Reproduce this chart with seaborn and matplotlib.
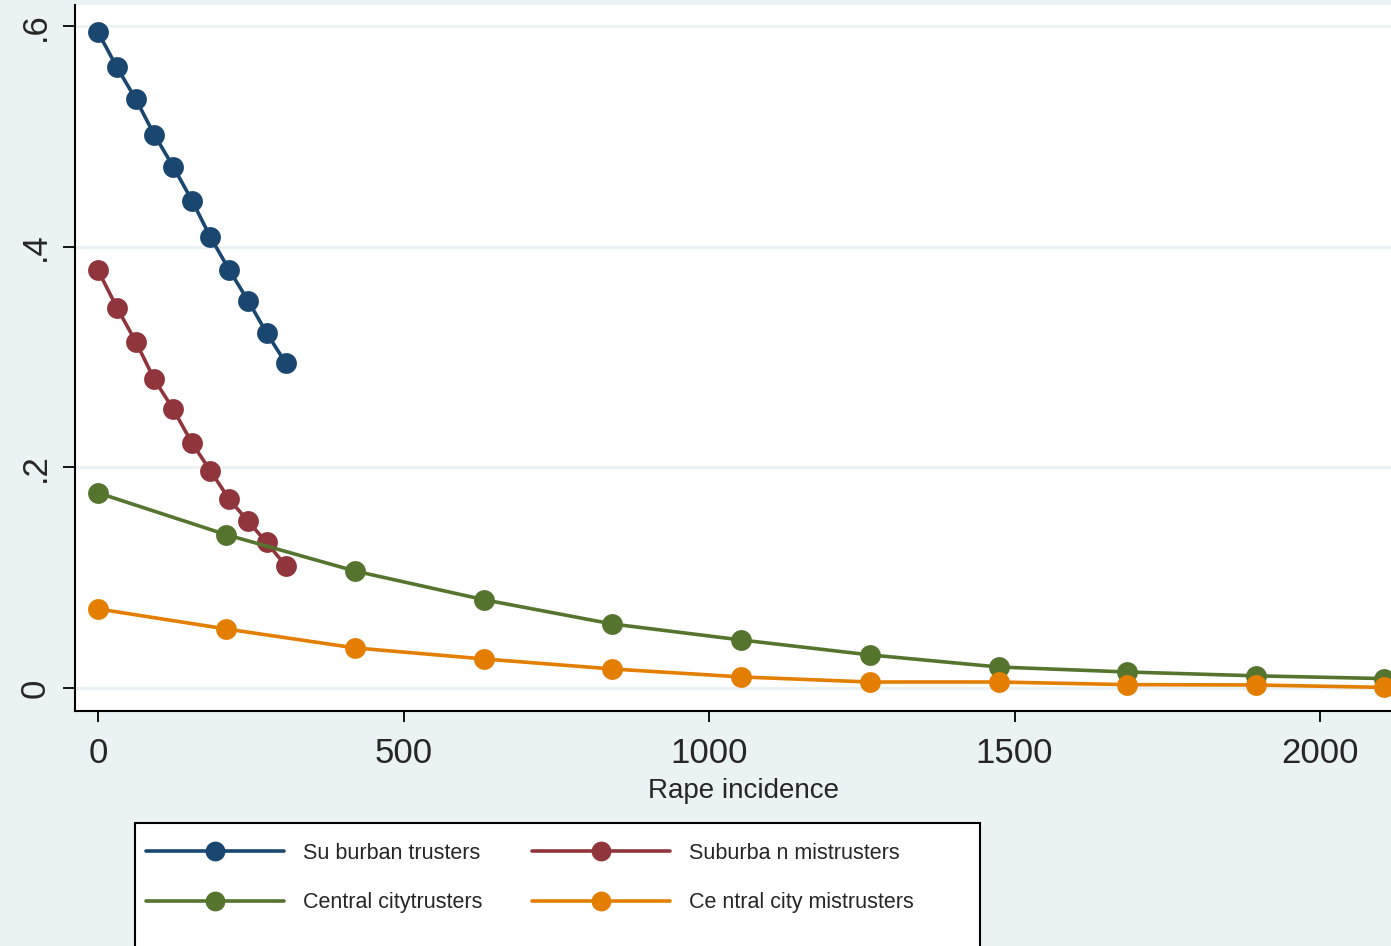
import matplotlib
matplotlib.use("Agg")
import matplotlib.pyplot as plt
from matplotlib import font_manager
from matplotlib.patches import Rectangle
import seaborn as sns
import pandas as pd

# Rape incidence values at which each group's probability is evaluated
suburban_x = [0, 31, 62, 92, 123, 154, 184, 215, 246, 276, 307]
central_x = [0, 210, 421, 632, 842, 1053, 1263, 1474, 1684, 1895, 2105]

# Predicted probabilities
suburban_trusters = [0.595, 0.563, 0.534, 0.502, 0.473, 0.442, 0.409, 0.379, 0.351, 0.322, 0.295]
suburban_mistrusters = [0.379, 0.345, 0.314, 0.280, 0.253, 0.222, 0.197, 0.171, 0.151, 0.132, 0.111]
central_trusters = [0.177, 0.139, 0.106, 0.080, 0.058, 0.0435, 0.030, 0.019, 0.0145, 0.011, 0.0085]
central_mistrusters = [0.0717, 0.0535, 0.0363, 0.0263, 0.0172, 0.010, 0.0054, 0.0054, 0.0030, 0.0027, 0.0005]

series_names = ["Su burban trusters", "Suburba n mistrusters",
                "Central citytrusters", "Ce ntral city mistrusters"]
series_colors = ["#1a476f", "#90353b", "#55752f", "#e37e00"]

y_ticks = [0, 0.2, 0.4, 0.6]
y_tick_labels = ["0", ".2", ".4", ".6"]
x_ticks = [0, 500, 1000, 1500, 2000]
x_tick_labels = ["0", "500", "1000", "1500", "2000"]

bg = "#eaf2f3"

sns.set_style("white")
plt.rcParams["font.family"] = ["Liberation Sans", "DejaVu Sans"]

available = {f.name for f in font_manager.fontManager.ttflist}
legend_family = "Liberation Sans Narrow" if "Liberation Sans Narrow" in available else "Liberation Sans"

fig = plt.figure(figsize=(13.91, 9.46), dpi=100, facecolor=bg)
W, H = 1391, 946
left_px, right_px, top_px, bottom_px = 75, 1391, 5, 711
ax = fig.add_axes([left_px / W, 1 - bottom_px / H,
                   (right_px - left_px) / W, (bottom_px - top_px) / H])
ax.set_facecolor("white")

frames = [
    (suburban_x, suburban_trusters),
    (suburban_x, suburban_mistrusters),
    (central_x, central_trusters),
    (central_x, central_mistrusters),
]
for (xs, ys), name, col in zip(frames, series_names, series_colors):
    df = pd.DataFrame({"x": xs, "y": ys})
    sns.lineplot(data=df, x="x", y="y", ax=ax, color=col, linewidth=2.6,
                 marker="o", markersize=15, markeredgewidth=0, label=name,
                 legend=False)

ax.set_xlim(-37.6, 2116)
ax.set_ylim(-0.0209, 0.6195)

for yv in y_ticks:
    ax.axhline(yv, color=bg, linewidth=2.2, zorder=0)

ax.set_yticks(y_ticks)
ax.set_yticklabels(y_tick_labels, rotation=90, va="center", fontsize=25)
ax.set_xticks(x_ticks)
ax.set_xticklabels(x_tick_labels, fontsize=25)
ax.tick_params(axis="y", length=9, width=1.3, color="black", pad=8, left=True)
ax.tick_params(axis="x", length=8, width=1.3, color="black", pad=11, bottom=True)

for side in ["top", "right"]:
    ax.spines[side].set_visible(False)
for side in ["left", "bottom"]:
    ax.spines[side].set_color("black")
    ax.spines[side].set_linewidth(1.5)

ax.set_ylabel("")
ax.set_xlabel("Rape incidence", fontsize=20)
ax.xaxis.set_label_coords((743 - left_px) / (right_px - left_px), -0.095)

# Legend frame and entries (two per row: suburban on top, central city below)
fig.patches.append(Rectangle((135 / W, 1 - 960 / H), (980 - 135) / W, (960 - 823) / H,
                             transform=fig.transFigure, facecolor="white",
                             edgecolor="black", linewidth=1.5, zorder=1))
lines = ax.get_lines()[:4]
order = [0, 2, 1, 3]
leg = fig.legend(handles=[lines[i] for i in order],
                 labels=[series_names[i] for i in order], ncol=2,
                 loc="upper left", bbox_to_anchor=(135 / W, 1 - 832 / H),
                 frameon=False, borderpad=0, handlelength=6.4,
                 handletextpad=0.9, columnspacing=2.3, labelspacing=1.32,
                 prop={"family": legend_family, "size": 15.5}, markerscale=0.95)
leg.set_zorder(2)

fig.savefig("out.png", dpi=100, facecolor=bg)
